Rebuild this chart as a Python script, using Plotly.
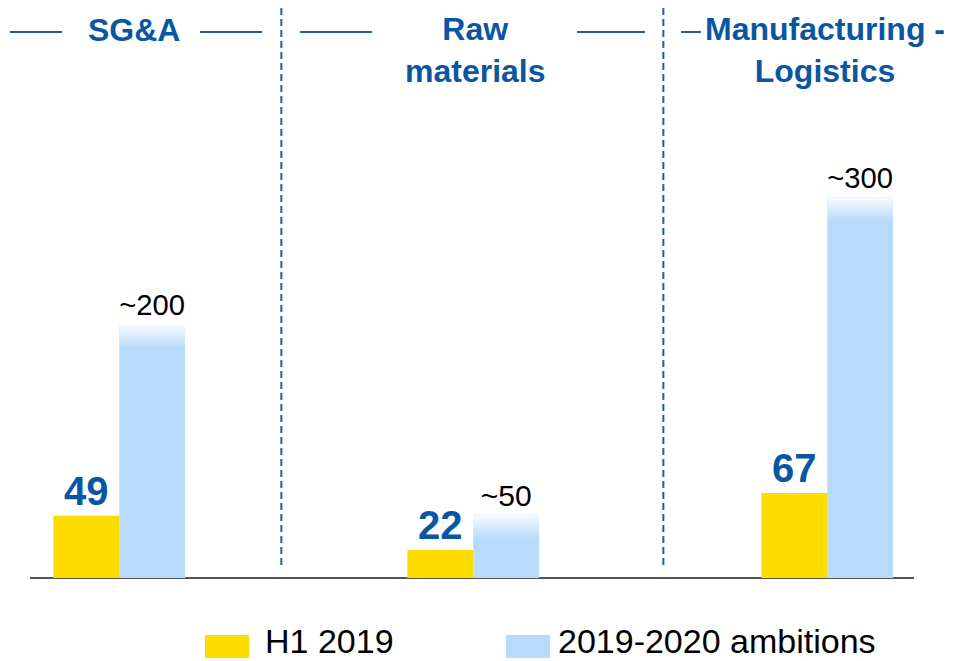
import plotly.graph_objects as go

categories = ["SG&A", "Raw materials", "Manufacturing - Logistics"]
category_titles = ["SG&A", "Raw<br>materials", "Manufacturing -<br>Logistics"]
h1_2019 = [49, 22, 67]
ambitions = [200, 50, 300]
ambition_labels = ["~200", "~50", "~300"]
series_names = ["H1 2019", "2019-2020 ambitions"]

YELLOW = "#FFDC00"
LIGHTBLUE = "#B8DBFB"
DARKBLUE = "#0B56A3"
LINEBLUE = "#1F5FA6"
FONT = "Arial, Liberation Sans, sans-serif"

W, H = 968, 661
ML, MR, MT, MB = 30, 54, 8, 83
PW, PH = W - ML - MR, H - MT - MB
YMAX = 449
BW = 0.186  # bar width in category units

xs = list(range(len(categories)))

fig = go.Figure()
fig.add_trace(go.Bar(
    x=xs, y=h1_2019, name=series_names[0], width=BW, offset=-BW,
    marker=dict(color=YELLOW, line=dict(width=0)),
    text=[str(v) for v in h1_2019], textposition="outside",
    textfont=dict(family=FONT, size=40, color=DARKBLUE, weight="bold"),
    cliponaxis=False, showlegend=False,
))
fig.add_trace(go.Bar(
    x=xs, y=ambitions, name=series_names[1], width=BW, offset=0,
    marker=dict(color=LIGHTBLUE, line=dict(width=0)),
    text=ambition_labels, textposition="outside",
    textfont=dict(family=FONT, size=30, color="#000000"),
    cliponaxis=False, showlegend=False,
))

# soft fade at the top of the ambition bars
fade = 24 * YMAX / PH
for i, v in zip(xs, ambitions):
    fig.add_trace(go.Scatter(
        x=[i, i + BW, i + BW, i, i], y=[v - fade, v - fade, v, v, v - fade],
        mode="lines", line=dict(width=0), fill="toself",
        fillgradient=dict(type="vertical",
                          colorscale=[[0, "rgba(255,255,255,0)"], [1, "rgba(255,255,255,0.92)"]]),
        showlegend=False, hoverinfo="skip",
    ))

def px_x(p):
    return (p - ML) / PW

def px_y(p):
    return (H - MB - p) / PH

shapes = []
# dashed dividers between the groups
for xd in [0.458, 1.537]:
    shapes.append(dict(type="line", xref="x", yref="paper", x0=xd, x1=xd,
                       y0=px_y(565), y1=px_y(8),
                       line=dict(color=LINEBLUE, width=2, dash="7px,4px")))
# decorative title rules
for a, b in [(10, 62), (200, 262), (300, 372), (577, 645), (681, 701)]:
    shapes.append(dict(type="line", xref="paper", yref="paper",
                       x0=px_x(a), x1=px_x(b), y0=px_y(32), y1=px_y(32),
                       line=dict(color=LINEBLUE, width=2)))

annotations = []
for cx, t in zip([134, 475, 825], category_titles):
    annotations.append(dict(x=px_x(cx), xref="paper", y=px_y(30), yref="paper",
                            text=t, showarrow=False, xanchor="center", yanchor="middle",
                            yshift=-20 if "<br>" in t else 0,
                            font=dict(family=FONT, size=32, color=DARKBLUE, weight="bold"),
                            align="center"))

# legend (drawn as swatches + labels to match the large key boxes)
legend_items = [(series_names[0], YELLOW, 205, 249, 263), (series_names[1], LIGHTBLUE, 506, 550, 556)]
for name, col, s0, s1, tx in legend_items:
    shapes.append(dict(type="rect", xref="paper", yref="paper",
                       x0=px_x(s0), x1=px_x(s1), y0=px_y(658), y1=px_y(635),
                       fillcolor=col, line=dict(width=0)))
    annotations.append(dict(x=px_x(tx), xref="paper", y=px_y(641), yref="paper",
                            text=name, showarrow=False, xanchor="left", yanchor="middle",
                            font=dict(family=FONT, size=34, color="#000000")))

fig.update_layout(
    width=W, height=H,
    margin=dict(l=ML, r=MR, t=MT, b=MB),
    paper_bgcolor="white", plot_bgcolor="white",
    barmode="overlay",
    xaxis=dict(range=[-0.252, 2.245], showticklabels=False, showgrid=False,
               zeroline=False, showline=False, ticks=""),
    yaxis=dict(range=[0, YMAX], showticklabels=False, showgrid=False,
               zeroline=True, zerolinecolor="#555555", zerolinewidth=2, showline=False),
    shapes=shapes,
    annotations=annotations,
    showlegend=False,
    font=dict(family=FONT),
)

fig.write_html("out.html", config={"displayModeBar": False},
               post_script="document.body.style.margin='0px';")
